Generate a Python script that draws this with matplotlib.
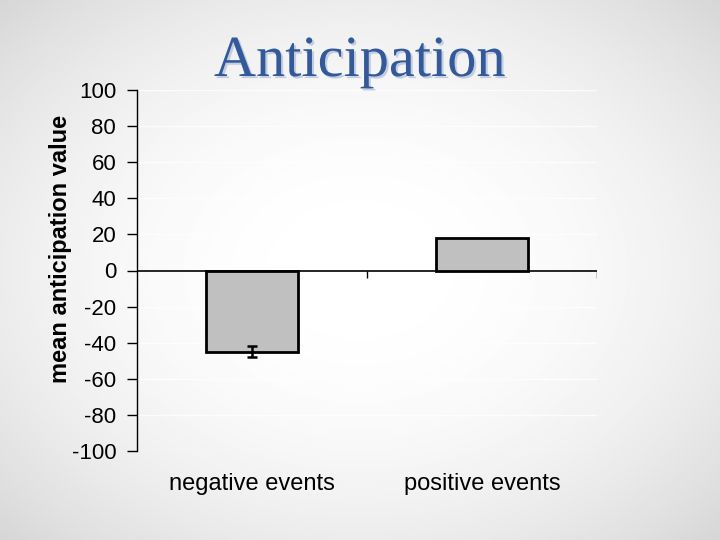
import numpy as np
import matplotlib
matplotlib.use("Agg")
import matplotlib.pyplot as plt
import matplotlib.patheffects as pe

# --- data ---------------------------------------------------------------
categories = ["negative events", "positive events"]
means = [-45.0, 18.0]
errors = [3.0, 0.0]
y_ticks = list(range(-100, 101, 20))

plt.rcParams["font.family"] = ["Liberation Sans", "DejaVu Sans"]

fig = plt.figure(figsize=(7.2, 5.4), dpi=100)

# slide-like radial grey gradient behind everything
bg = fig.add_axes([0, 0, 1, 1], zorder=-10)
yy, xx = np.mgrid[0:1:270j, 0:1:360j]
r2 = ((xx - 0.5) / 0.5) ** 2 + ((yy - 0.5) / 0.5) ** 2
shade = 1.0 - 0.16 * np.clip(r2 / 2.0, 0, 1) ** 1.1
bg.imshow(shade, cmap="gray", vmin=0, vmax=1, aspect="auto",
          extent=[0, 1, 0, 1], interpolation="bilinear")
bg.axis("off")

ax = fig.add_axes([137 / 720, 1 - 451 / 540, 460 / 720, 361 / 540])
ax.patch.set_alpha(0)

x = np.arange(len(categories))
ax.bar(x, means, width=0.4, color="#c0c0c0", edgecolor="black",
       linewidth=2.0, zorder=3)
for xi, m, e in zip(x, means, errors):
    if e > 0:
        ax.errorbar(xi, m, yerr=e, fmt="none", ecolor="black",
                    elinewidth=1.8, capsize=3.5, capthick=1.8, zorder=4)

ax.set_xlim(-0.5, 1.5)
ax.set_ylim(-100, 100)
ax.set_yticks(y_ticks)
ax.set_yticklabels([str(v) for v in y_ticks], fontsize=16)
ax.tick_params(axis="y", direction="out", length=7, width=1, pad=8)

ax.set_xticks(x)
ax.set_xticklabels(categories, fontsize=17)
ax.tick_params(axis="x", length=0, pad=16)

# zero line with category separators
ax.axhline(0, color="black", lw=1.2, zorder=2)
ax.vlines([0.5, 1.5], -4, 0, color="black", lw=1.0, zorder=2)

ax.yaxis.grid(True, color="white", lw=1.0, alpha=0.8)
ax.set_axisbelow(True)
for s in ["top", "right", "bottom"]:
    ax.spines[s].set_visible(False)
ax.spines["left"].set_linewidth(1.0)

ax.set_ylabel("mean anticipation value", fontsize=17, fontweight="bold")
ax.yaxis.set_label_coords(-0.141, 0.56)

fig.text(0.5, 1 - 76 / 540, "Anticipation", ha="center", va="baseline",
         fontsize=42, family=["Liberation Serif", "DejaVu Serif"],
         color="#33599a",
         path_effects=[pe.withSimplePatchShadow(offset=(1.5, -1.5),
                                                shadow_rgbFace="#b8c4d8",
                                                alpha=0.8)])

fig.savefig("out.png", dpi=100)
